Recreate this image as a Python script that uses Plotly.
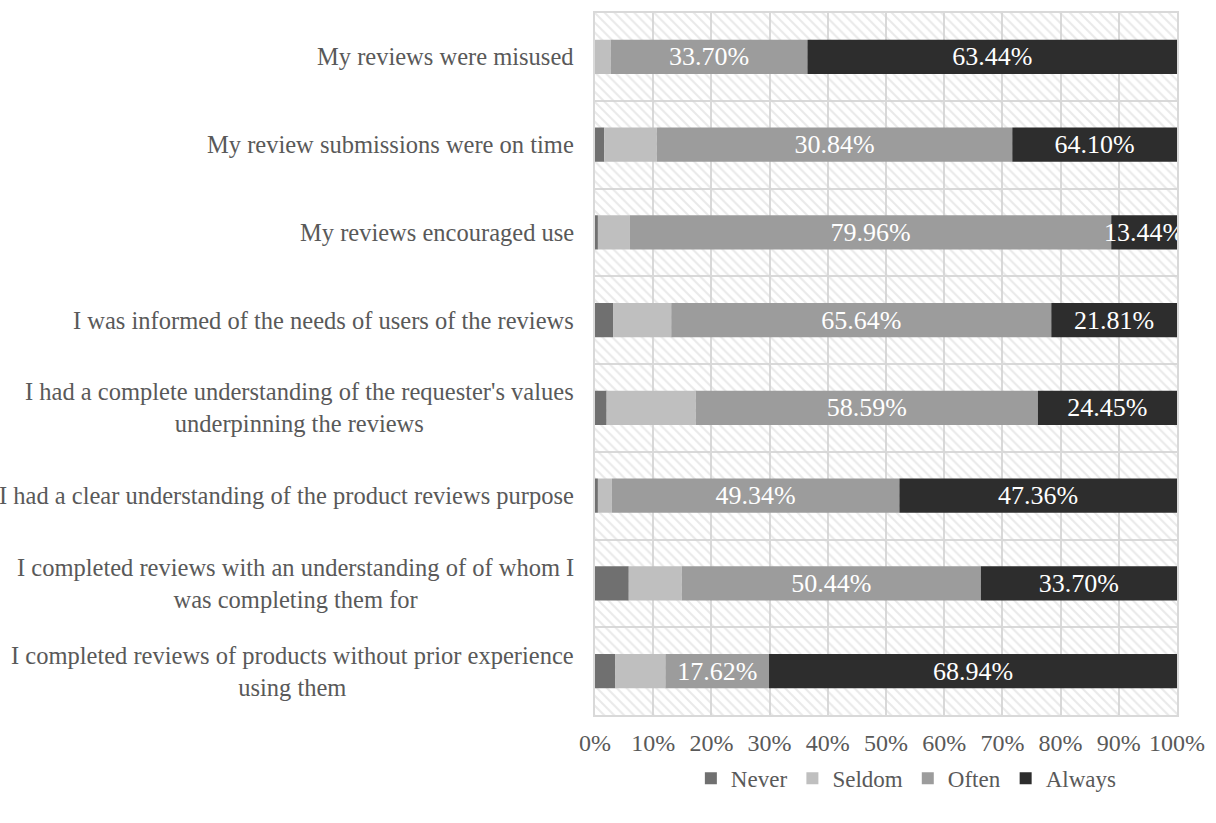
import plotly.graph_objects as go

categories = [
    "My reviews were misused",
    "My review submissions were on time",
    "My reviews encouraged use",
    "I was informed of the needs of users of the reviews",
    "I had a complete understanding of the requester's values<br>underpinning the reviews",
    "I had a clear understanding of the product reviews purpose",
    "I completed reviews with an understanding of of whom I<br>was completing them for",
    "I completed reviews of products without prior experience<br>using them",
]
cat_keys = ["c%d" % i for i in range(len(categories))]

never = [0.0, 1.6, 0.5, 3.1, 2.0, 0.5, 5.8, 3.5]
seldom = [2.7, 9.0, 5.5, 10.0, 15.3, 2.4, 9.1, 8.6]
often = [33.8, 61.1, 82.7, 65.3, 58.8, 49.4, 51.4, 17.8]
always = [63.5, 28.3, 11.3, 21.6, 23.9, 47.7, 33.7, 70.1]

often_labels = ["33.70%", "30.84%", "79.96%", "65.64%", "58.59%", "49.34%", "50.44%", "17.62%"]
always_labels = ["63.44%", "64.10%", "13.44%", "21.81%", "24.45%", "47.36%", "33.70%", "68.94%"]

series = [
    ("Never", never, None, "#707070"),
    ("Seldom", seldom, None, "#bfbfbf"),
    ("Often", often, often_labels, "#9c9c9c"),
    ("Always", always, always_labels, "#2d2d2d"),
]

FONT = "Liberation Serif"
TXT = "#595959"

fig = go.Figure()

# hatched background of the plot area
fig.add_trace(go.Bar(
    y=cat_keys, x=[100] * len(cat_keys), base=[0] * len(cat_keys),
    orientation="h", width=1.0, showlegend=False, hoverinfo="skip",
    marker=dict(color="rgba(0,0,0,0)", line=dict(width=0),
                pattern=dict(shape="\\", fgcolor="#d4d4d4", bgcolor="rgba(0,0,0,0)",
                             size=7, solidity=0.3, fillmode="overlay")),
))

cum = [0.0] * len(cat_keys)
for name, vals, labels, color in series:
    tf = dict(family=FONT, size=26, color="white")
    fig.add_trace(go.Bar(
        name=name, y=cat_keys, x=vals, base=list(cum), orientation="h",
        width=0.39, marker=dict(color=color, line=dict(width=0)),
        text=labels, textposition="inside" if labels else "none",
        insidetextanchor="middle", constraintext="none",
        textfont=tf, insidetextfont=tf, outsidetextfont=tf,
        cliponaxis=False,
    ))
    cum = [c + v for c, v in zip(cum, vals)]

for key, label in zip(cat_keys, categories):
    fig.add_annotation(
        x=0, xref="paper", y=key, yref="y", text=label, showarrow=False,
        xanchor="right", yanchor="middle", xshift=-19, align="center",
        font=dict(family=FONT, size=24.5, color=TXT),
    )

fig.update_layout(
    width=1216, height=823,
    margin=dict(l=595, r=37, t=11, b=108),
    barmode="overlay",
    paper_bgcolor="white", plot_bgcolor="white",
    font=dict(family=FONT, size=24, color=TXT),
    legend=dict(orientation="h", x=0.535, xanchor="center", y=-0.09, yanchor="middle",
                font=dict(family=FONT, size=23, color=TXT), traceorder="normal",
                itemwidth=30),
    showlegend=True,
)
fig.update_xaxes(
    range=[0, 100], dtick=10, ticksuffix="%", showgrid=True, gridcolor="#d9d9d9",
    gridwidth=1.5, zeroline=False, showline=True, mirror=True, linecolor="#d9d9d9",
    linewidth=1.5, ticks="", ticklabelstandoff=5,
    tickfont=dict(family=FONT, size=24, color=TXT),
)
fig.update_yaxes(
    type="category", categoryorder="array", categoryarray=cat_keys,
    autorange="reversed", tickson="boundaries", showgrid=True, gridcolor="#d9d9d9",
    gridwidth=1.5, showline=True, mirror=True, linecolor="#d9d9d9", linewidth=1.5,
    showticklabels=False, ticks="",
)

fig.write_html("out.html")
